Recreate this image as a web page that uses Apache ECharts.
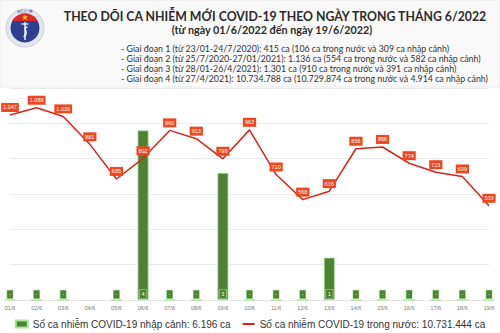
<!DOCTYPE html>
<html>
<head>
<meta charset="utf-8">
<script src="https://cdn.jsdelivr.net/npm/echarts@6/dist/echarts.min.js"></script>
<style>html,body{margin:0;padding:0;background:#fff}#c{width:500px;height:333px}</style>
</head>
<body>
<div id="c"></div>
<script>
var categories = ['01/6','02/6','03/6','04/6','05/6','06/6','07/6','08/6','09/6','10/6','11/6','12/6','13/6','14/6','15/6','16/6','17/6','18/6','19/6'];
var importedCases = [0,0,0,null,0,4,0,0,3,0,0,0,1,0,0,0,0,0,0];
var domesticCases = [1047,1088,1039,881,685,802,960,913,799,963,710,568,616,856,866,774,723,699,533];
var titleText = 'THEO DÕI CA NHIỄM MỚI COVID-19 THEO NGÀY TRONG THÁNG 6/2022';
var subtitleText = '(từ ngày 01/6/2022 đến ngày 19/6/2022)';
var infoLines = [
  '- Giai đoạn 1 (từ 23/01-24/7/2020): 415 ca (106 ca trong nước và 309 ca nhập cảnh)',
  '- Giai đoạn 2 (từ 25/7/2020-27/01/2021): 1.136 ca (554 ca trong nước và 582 ca nhập cảnh)',
  '- Giai đoạn 3 (từ 28/01-26/4/2021): 1.301 ca (910 ca trong nước và 391 ca nhập cảnh)',
  '- Giai đoạn 4 (từ 27/4/2021): 10.734.788 ca (10.729.874 ca trong nước và 4.914 ca nhập cảnh)'
];
var legendNames = ['Số ca nhiễm COVID-19 nhập cảnh: 6.196 ca', 'Số ca nhiễm COVID-19 trong nước: 10.731.444 ca'];

function fmt(v){ return String(v).replace(/\B(?=(\d{3})+(?!\d))/g, '.'); }

// logo red band (segment of circle above chord)
var bandPts = [];
for (var a = 0; a <= 20; a++) {
  var ang = Math.PI + Math.asin(7/14.5) + (Math.PI - 2*Math.asin(7/14.5)) * a / 20;
  bandPts.push([25 + 14.5*Math.cos(ang), 28 + 14.5*Math.sin(ang)]);
}
var starPts = [];
for (var k = 0; k < 10; k++) {
  var r = k % 2 === 0 ? 3 : 1.3;
  var t = -Math.PI/2 + k*Math.PI/5;
  starPts.push([25 + r*Math.cos(t), 17.5 + r*Math.sin(t)]);
}

var chart = echarts.init(document.getElementById('c'), null, {renderer: 'svg'});
var graphics = [
  {type:'rect', shape:{x:0,y:0,width:500,height:87}, style:{fill:'#f9f9f9', stroke:'#ececec', lineWidth:1}, z:-10, silent:true},
  {type:'circle', shape:{cx:25,cy:28,r:19}, style:{fill:'#e4e6ee', stroke:'#c9ccd8', lineWidth:1}},
  {type:'circle', shape:{cx:25,cy:28,r:14.5}, style:{fill:'#2e3f92'}},
  {type:'polygon', shape:{points:bandPts}, style:{fill:'#e02a2a'}},
  {type:'polygon', shape:{points:starPts}, style:{fill:'#ffd400'}},
  {type:'line', shape:{x1:25,y1:22,x2:25,y2:40}, style:{stroke:'#fff', lineWidth:1.4}},
  {type:'line', shape:{x1:21.5,y1:24,x2:28.5,y2:24}, style:{stroke:'#fff', lineWidth:1.2}},
  {type:'bezierCurve', shape:{x1:27.5,y1:27,cpx1:21,cpy1:28,cpx2:31,cpy2:33,x2:23.5,y2:36.5}, style:{stroke:'#fff', fill:null, lineWidth:1.3}},
  {type:'text', x:25, y:11.5, style:{text:'BỘ Y TẾ', fill:'#2e3f92', fontSize:4, fontFamily:'Liberation Sans', align:'center', verticalAlign:'middle'}},
  {type:'text', x:275, y:16, style:{text:titleText, fill:'#2b2b2b', fontSize:12.3, fontFamily:'Lato', fontWeight:'bold', align:'center', verticalAlign:'middle'}},
  {type:'text', x:272, y:29, style:{text:subtitleText, fill:'#2b2b2b', fontSize:10.8, fontFamily:'Lato', fontWeight:'bold', align:'center', verticalAlign:'middle'}}
];
var infoY = [48, 58, 68, 78];
for (var i = 0; i < infoLines.length; i++) {
  graphics.push({type:'text', x:121, y:infoY[i], style:{text:infoLines[i], fill:'#333', fontSize:8.8, fontFamily:'Lato', align:'left', verticalAlign:'middle'}});
}

chart.setOption({
  animation: false,
  backgroundColor: '#ffffff',
  graphic: graphics,
  grid: {left: 10, right: 11, top: 88, bottom: 33},
  legend: {
    bottom: 4, left: 'center', itemGap: 12, itemWidth: 12, itemHeight: 7, padding: 0,
    textStyle: {fontSize: 10, color: '#333', fontFamily: 'Liberation Sans'},
    data: [
      {name: legendNames[0], icon: 'rect'},
      {name: legendNames[1], icon: 'path://M0,0 L12,0 L12,0.01 L0,0.01 Z M0,2.5 L12,2.5 L12,4.5 L0,4.5 Z M0,6.99 L12,6.99 L12,7 L0,7 Z',
       itemStyle: {color: '#d6251c', borderWidth: 0}}
    ]
  },
  xAxis: {
    type: 'category', data: categories, boundaryGap: false,
    axisLine: {show: true, lineStyle: {color: '#e3e3e3'}},
    axisTick: {show: false},
    axisLabel: {fontSize: 5.5, color: '#7a7a7a', margin: 5, fontFamily: 'Liberation Sans'}
  },
  yAxis: [
    {type: 'value', min: 0, max: 1200, interval: 200, axisLabel: {show: false}, axisLine: {show: false}, axisTick: {show: false},
     splitLine: {lineStyle: {color: '#ebebeb'}}},
    {type: 'value', min: 0, max: 5, interval: 1, axisLabel: {show: false}, axisLine: {show: false}, axisTick: {show: false}, splitLine: {show: false}}
  ],
  series: [
    {
      name: legendNames[0], type: 'bar', yAxisIndex: 1, data: importedCases, barWidth: 11,
      itemStyle: {color: '#4f8132', borderColor: '#a5e69a', borderWidth: 0.8},
      label: {show: true, position: 'insideBottom', distance: 2,
        formatter: function(p){ return p.value === 0 ? '-' : String(p.value); },
        color: '#fff', fontSize: 5, fontFamily: 'Liberation Sans', backgroundColor: '#4f8132', borderColor: '#a5e69a', borderWidth: 0.6, padding: [1.5, 2]}
    },
    {
      name: legendNames[1], type: 'line', yAxisIndex: 0, data: domesticCases,
      symbol: 'circle', symbolSize: 0.1,
      lineStyle: {color: '#d6251c', width: 1.5}, itemStyle: {color: '#d6251c'},
      label: {show: true, position: 'top', distance: 3,
        formatter: function(p){ return fmt(p.value); },
        color: '#fff', fontSize: 5.5, fontFamily: 'Liberation Sans', backgroundColor: '#f0461e', padding: [1.5, 2]}
    }
  ]
});
</script>
</body>
</html>
